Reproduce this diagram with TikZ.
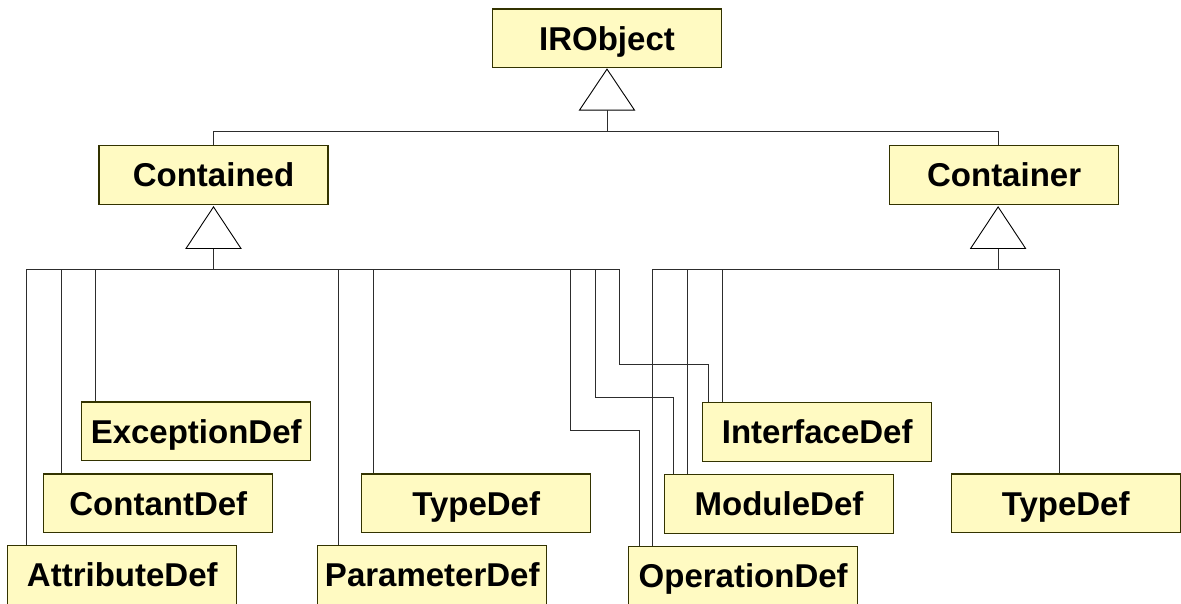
\documentclass[tikz,border=0pt]{standalone}
\usepackage{fontspec}
\setmainfont{Liberation Sans}
\usetikzlibrary{calc}
\definecolor{boxfill}{RGB}{255,250,194}
\definecolor{boxline}{RGB}{51,51,0}
\definecolor{connline}{RGB}{45,45,45}
\tikzset{
  cls/.style={draw=boxline, fill=boxfill, line width=1.3pt, minimum width=229pt,
    minimum height=58.5pt, inner sep=0pt, text height=23.6pt, text depth=0pt,
    font=\fontsize{33}{36}\selectfont\bfseries},
  conn/.style={draw=connline, line width=1pt},
  tri/.style={draw=black, fill=white, line width=0.9pt, line join=miter}
}
\begin{document}
\begin{tikzpicture}[x=1pt,y=-1pt]
\useasboundingbox (0,0) rectangle (1181,603);
% class boxes
\node[cls] (IR) at (607,38.2) {IRObject};
\node[cls] (Cd) at (213.5,175) {Contained};
\node[cls] (Cr) at (1004.1,175) {Container};
\node[cls] (Exc) at (196.2,431.3) {ExceptionDef};
\node[cls] (Con) at (158.3,503.3) {ContantDef};
\node[cls] (Att) at (122.3,575) {AttributeDef};
\node[cls] (TdL) at (476.2,503.3) {TypeDef};
\node[cls] (Par) at (432.3,575) {ParameterDef};
\node[cls] (Op) at (743.2,576) {OperationDef};
\node[cls] (Mod) at (779,504) {ModuleDef};
\node[cls] (Int) at (817.2,432) {InterfaceDef};
\node[cls] (TdR) at (1065.7,503.3) {TypeDef};
% generalisation triangles
\draw[tri] ($(IR.south)+(0,1)$) -- ++(27.5,41) -- ++(-55,0) -- cycle;
\draw[tri] ($(Cd.south)+(0,2)$) -- ++(27.5,41.6) -- ++(-55,0) -- cycle;
\draw[tri] ($(Cr.south)+(-6,2)$) -- ++(27.5,41.6) -- ++(-55,0) -- cycle;
\coordinate (irb) at ($(IR.south)+(0,42)$);
\coordinate (cdb) at ($(Cd.south)+(0,43.6)$);
\coordinate (crb) at ($(Cr.south)+(-6,43.6)$);
% IRObject level
\coordinate (busT) at ($(irb)+(0,21.7)$);
\draw[conn] (irb) -- (busT);
\draw[conn] (busT) -| (Cd.north);
\draw[conn] (busT) -| ($(Cr.north)+(-6,0)$);
% Contained children
\coordinate (busL) at ($(cdb)+(0,20.7)$);
\draw[conn] (cdb) -- (busL);
\draw[conn] (busL) -| ($(Att.north west)+(19.6,0)$);
\draw[conn] (busL) -| ($(Con.north west)+(18.3,0)$);
\draw[conn] (busL) -| ($(Exc.north west)+(14.6,0)$);
\draw[conn] (busL) -| ($(Par.north west)+(21.5,0)$);
\draw[conn] (busL) -| ($(TdL.north west)+(12.3,0)$);
\draw[conn] (busL) -| (570.7,430.7) -| ($(Op.north west)+(11.6,0)$);
\draw[conn] (busL) -| (595,397) -| ($(Mod.north west)+(9.9,0)$);
\draw[conn] (busL) -| (619.3,364.7) -| ($(Int.north west)+(6.5,0)$);
% Container children
\coordinate (busR) at ($(crb)+(0,20.7)$);
\draw[conn] (crb) -- (busR);
\draw[conn] (busR) -| ($(Op.north west)+(24.4,0)$);
\draw[conn] (busR) -| ($(Mod.north west)+(23.8,0)$);
\draw[conn] (busR) -| ($(Int.north west)+(20,0)$);
\draw[conn] (busR) -| ($(TdR.north west)+(108.6,0)$);
\end{tikzpicture}
\end{document}
